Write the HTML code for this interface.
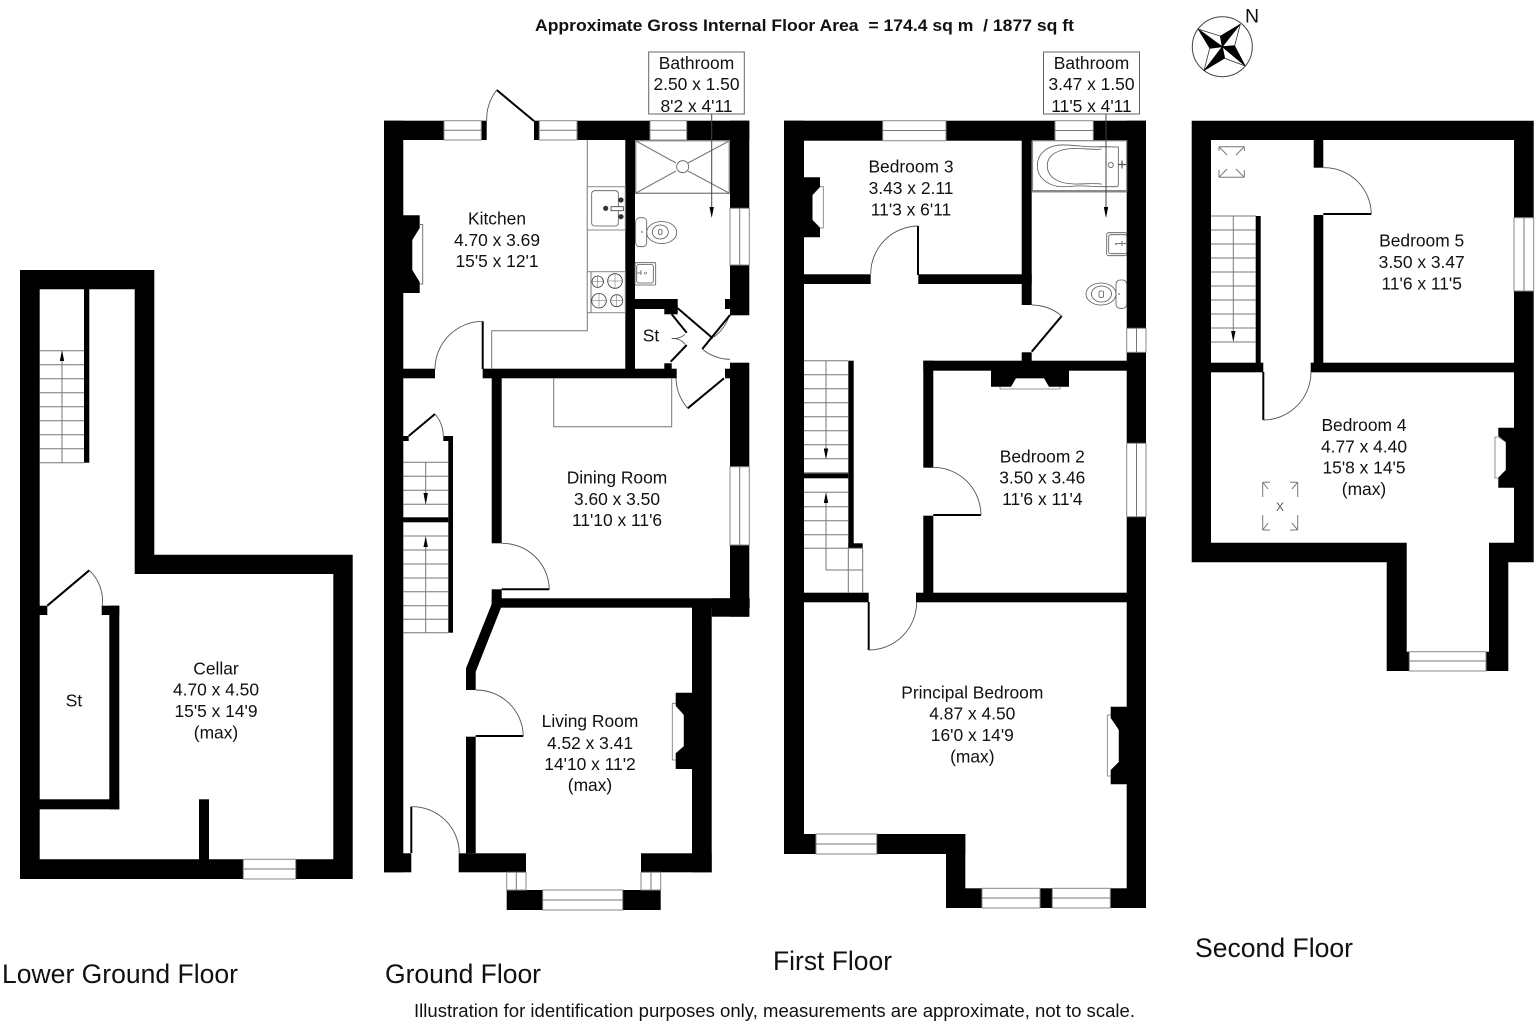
<!DOCTYPE html>
<html><head><meta charset="utf-8"><title>Floor plan</title>
<style>
html,body{margin:0;padding:0;background:#fff}
svg{display:block}
text{font-family:"Liberation Sans",sans-serif;fill:#111;font-size:17.4px}
.c{text-anchor:middle}
.f{font-size:26.5px}
.g{stroke:#777;stroke-width:1;fill:none}
.k{stroke:#444;stroke-width:1;fill:none}
.w{stroke:#888;stroke-width:1;fill:#fff}
.a{stroke:#555;stroke-width:.9;fill:none}
.l{stroke:#000;stroke-width:2;fill:none}
.t{stroke:#555;stroke-width:.8;fill:#fff}
</style></head><body>
<svg width="1536" height="1024" viewBox="0 0 1536 1024" xmlns="http://www.w3.org/2000/svg">
<rect width="1536" height="1024" fill="#fff"/>

<text x="535" y="31" xml:space="preserve" style="font-size:16.5px;font-weight:bold;white-space:pre" textLength="539" lengthAdjust="spacingAndGlyphs">Approximate Gross Internal Floor Area  = 174.4 sq m  / 1877 sq ft</text>

<!-- compass -->
<circle cx="1222.3" cy="46.7" r="30" fill="#fff" stroke="#444" stroke-width="1"/>
<g stroke="#333" stroke-width=".8" fill="#fff">
<polygon points="1240.3,24 1234.7,45.7 1222.3,46.7"/>
<polygon points="1245.3,66 1224.7,58.3 1222.3,46.7"/>
<polygon points="1204,70.7 1209.7,48.3 1222.3,46.7"/>
<polygon points="1198,29 1220.3,36 1222.3,46.7"/>
</g>
<g fill="#000" stroke="#000" stroke-width=".5">
<polygon points="1240.3,24 1220.3,36 1222.3,46.7"/>
<polygon points="1245.3,66 1234.7,45.7 1222.3,46.7"/>
<polygon points="1204,70.7 1224.7,58.3 1222.3,46.7"/>
<polygon points="1198,29 1209.7,48.3 1222.3,46.7"/>
</g>
<text x="1245" y="22.3" style="font-size:19.5px">N</text>

<!-- ============ CELLAR ============ -->
<path fill-rule="evenodd" fill="#000" d="M20 270H154.3V554.7H352.7V879H20Z M39.7 289.3V859.3H333.3V574H134.7V289.3Z"/>
<rect x="84" y="289" width="5.3" height="173.7"/>
<g class="g">
<path d="M39.7 350.7H84M39.7 364.7H84M39.7 378.7H84M39.7 392.7H84M39.7 406.7H84M39.7 420.7H84M39.7 434.7H84M39.7 448.7H84M39.7 462.7H84M62 462.7V358"/>
</g>
<polygon points="62,350 59.8,361 64.2,361"/>
<rect x="39" y="605.7" width="8.3" height="9.3"/>
<rect x="101.7" y="605.7" width="17.6" height="9.3"/>
<rect x="109.3" y="605.7" width="10" height="203.6"/>
<rect x="39" y="799.3" width="80.3" height="10"/>
<path class="l" d="M47.3 605.7L89.3 570.3"/>
<path class="a" d="M89.3 570.3A42 42 0 0 1 102.3 605.7"/>
<rect x="199" y="799.3" width="10" height="60.5"/>
<rect class="w" x="243.3" y="859.3" width="52.4" height="19.7"/><path class="g" d="M243.3 869H295.7"/>
<text class="c" x="216" y="674.3">Cellar</text>
<text class="c" x="216" y="695.7">4.70 x 4.50</text>
<text class="c" x="216" y="717">15'5 x 14'9</text>
<text class="c" x="216" y="738.3">(max)</text>
<text class="c" x="74" y="706.7">St</text>

<!-- ============ GROUND ============ -->
<rect x="384" y="120.7" width="19.3" height="751.6"/>
<rect x="384" y="120.7" width="365.3" height="19.3"/>
<rect x="730" y="120.7" width="19.3" height="194.6"/>
<rect x="730" y="362.7" width="19.3" height="254"/>
<rect x="711.7" y="598.3" width="37.6" height="18.4"/>
<rect x="692" y="607" width="19.7" height="265.3"/>
<rect x="384" y="853.3" width="27.3" height="19"/>
<rect x="458.7" y="853.3" width="67.3" height="19"/>
<rect x="641" y="853.3" width="70.7" height="19"/>
<rect x="506.7" y="890" width="36" height="20"/>
<rect x="622.7" y="890" width="38" height="20"/>
<rect class="w" x="506.7" y="872.3" width="19.3" height="17.7"/><path class="g" d="M516.3 872.3V890"/>
<rect class="w" x="641" y="872.3" width="19.7" height="17.7"/><path class="g" d="M651 872.3V890"/>
<rect class="w" x="542.7" y="890" width="80" height="20"/><path class="g" d="M542.7 900H622.7"/>
<rect class="w" x="444" y="120.7" width="37.3" height="19.3"/><path class="g" d="M444 130.3H481.3"/>
<rect fill="#fff" x="486.7" y="120" width="47.3" height="21"/>
<rect class="w" x="539.3" y="120.7" width="37.7" height="19.3"/><path class="g" d="M539.3 130.3H577"/>
<rect class="w" x="650" y="120.7" width="36.7" height="19.3"/><path class="g" d="M650 130.3H686.7"/>
<path class="l" d="M534 121L496.7 90"/>
<path class="a" d="M496.7 90A48 48 0 0 0 486.7 121"/>
<rect class="w" x="730" y="208.3" width="19.3" height="56.7"/><path class="g" d="M739.7 208.3V265"/>
<rect class="w" x="730" y="466.7" width="19.3" height="78.3"/><path class="g" d="M739.7 466.7V545"/>
<rect x="625.3" y="140" width="9.7" height="233"/>
<rect x="403" y="368.7" width="32" height="9.6"/>
<rect x="482.7" y="368.7" width="194" height="9.6"/>
<rect x="635" y="299" width="42.7" height="10"/>
<rect x="664.3" y="305" width="13.4" height="9.3"/>
<rect x="664.3" y="363.3" width="7.4" height="10"/>
<rect x="725" y="299" width="5" height="10"/>
<rect x="725" y="368.7" width="5" height="9.6"/>
<rect x="491.7" y="378" width="10" height="165.3"/>
<rect x="491.7" y="589.3" width="10" height="18"/>
<rect x="491.7" y="598.3" width="258" height="9.4"/>
<polygon points="491.7,604 501,607.7 475.7,671.7 475.7,690 466,690 466,668.3"/>
<rect x="466" y="736.7" width="9.7" height="116.6"/>
<!-- doors -->
<path class="l" d="M482.7 321.3V369"/><path class="a" d="M482.7 321.3A48 48 0 0 0 435 369"/>
<path class="l" d="M501.7 589.3H549.3"/><path class="a" d="M501.7 543.3A47 47 0 0 1 549.3 589.3"/>
<path class="l" d="M475.7 736H523.3"/><path class="a" d="M475.7 690A47 47 0 0 1 523.3 736"/>
<path class="l" d="M411.3 806.7V853"/><path class="a" d="M411.3 806.7A47 47 0 0 1 459.3 853"/>
<path class="l" d="M677.7 308.3L712.7 338.3"/><path class="a" d="M714 337A45 45 0 0 0 729.5 315"/>
<path class="l" d="M730 315L702.3 349"/><path class="a" d="M702.3 349A44 44 0 0 0 730 359.3"/>
<path class="l" d="M724 378.3L687.7 408.3"/><path class="a" d="M687.7 408.3A48 48 0 0 1 676 378.3"/>
<path class="l" d="M671.7 314.3L686.7 332.7M686.7 345L670.7 361.7"/>
<path class="a" d="M671.7 338.5Q680 339 685 334.3M671.7 338.5Q680 338 685 344.3"/>
<!-- kitchen counters -->
<path class="g" d="M587.3 140V330.7H491.7V369"/>
<rect class="w" x="587.3" y="186.7" width="38" height="43.3"/>
<rect class="t" x="591.7" y="190.7" width="26.6" height="35.3" rx="3"/>
<rect x="611" y="206.7" width="12.3" height="4" fill="#fff" stroke="#333" stroke-width=".8"/>
<circle cx="605.7" cy="208.3" r="2.6" fill="#333"/><circle cx="621" cy="200" r="2.6" fill="#333"/><circle cx="621" cy="216.7" r="2.6" fill="#333"/>
<rect class="w" x="587.3" y="271.7" width="38" height="41"/>
<path class="g" d="M591 271.7V312.7"/>
<g class="t" style="stroke:#333">
<circle cx="597.7" cy="281.7" r="5.7"/><circle cx="615" cy="281" r="7.3"/><circle cx="599" cy="300.7" r="7.3"/><circle cx="616.7" cy="300.7" r="6"/>
</g>
<path d="M591 281.7h13M608 281h14M597.7 276v11M615 273.7v14.6M591 300.7h15M611 300.7h12M599 293.4v14.6M616.7 294.7v12" stroke="#666" stroke-width=".5"/>
<!-- bathroom fittings -->
<rect x="635.7" y="140.7" width="93.6" height="52.6" fill="#fff" stroke="#888" stroke-width="1.4"/>
<path class="g" d="M636 141L676 163M729 141L688 163M636 193L676 171M729 193L688 171"/>
<circle class="t" cx="682.7" cy="166.7" r="6"/>
<ellipse class="t" cx="661.7" cy="232.5" rx="15" ry="11"/>
<ellipse class="t" cx="660.3" cy="232" rx="8" ry="7"/>
<rect class="t" x="658.5" y="229.5" width="3.5" height="5" rx="1.5"/>
<rect class="t" x="635.7" y="217.7" width="11" height="29" rx="4"/>
<circle cx="642" cy="232" r=".7" fill="#333"/>
<rect class="t" x="635" y="262.7" width="20.7" height="22.3" rx="1"/>
<rect class="t" x="636.7" y="264.5" width="16.6" height="18.5" rx="2"/>
<path class="g" d="M637 273h4M641 270v5"/><circle cx="645.5" cy="273" r="1" fill="none" stroke="#555" stroke-width=".6"/>
<!-- stairs -->
<rect x="448.3" y="436" width="4.7" height="196.7"/>
<rect x="443.3" y="436" width="9.7" height="5"/>
<rect x="403" y="436" width="5.7" height="5"/>
<path class="l" d="M408.7 436L435 414"/><path class="a" d="M435 414A35 35 0 0 1 443.3 436"/>
<rect x="403" y="517.3" width="45.3" height="5"/>
<path class="g" d="M403.3 462.3H448.3M403.3 476.3H448.3M403.3 490.3H448.3M403.3 504.3H448.3M403.3 536H448.3M403.3 550H448.3M403.3 564H448.3M403.3 578H448.3M403.3 591.7H448.3M403.3 605.7H448.3M403.3 619.3H448.3M403.3 632.7H448.3M425.7 462V496M425.7 632.7V544"/>
<polygon points="425.7,505 423.5,493 427.9,493"/>
<polygon points="425.7,536 423.5,547 427.9,547"/>
<path class="g" d="M553.7 378V426.7H671.7V378"/>
<!-- living chimney -->
<polygon class="t" points="672.3,703.3 676,703.3 684,715 684,746.7 676,760 672.3,760" style="stroke:#777"/>
<polygon points="692,692.7 675.7,692.7 675.7,706 684,715 684,746 675.7,753.3 675.7,769 692,769"/>
<!-- kitchen chimney -->
<path class="g" d="M419.7 224.5H422.7V284H419.7"/>
<polygon points="403,215.3 419.7,215.3 419.7,228 412.3,240 412.3,270 419.7,282 419.7,293 403,293"/>
<!-- labels -->
<rect x="648.7" y="52" width="95.6" height="62" fill="#fff" stroke="#666" stroke-width="1"/>
<path class="k" d="M711.7 114V209"/><polygon points="711.7,218 709.5,207 713.9,207"/>
<text class="c" x="696.5" y="69">Bathroom</text>
<text class="c" x="696.5" y="90">2.50 x 1.50</text>
<text class="c" x="696.5" y="112">8'2 x 4'11</text>
<text class="c" x="497" y="224.5">Kitchen</text>
<text class="c" x="497" y="245.8">4.70 x 3.69</text>
<text class="c" x="497" y="267.2">15'5 x 12'1</text>
<text class="c" x="651" y="341.7">St</text>
<text class="c" x="617" y="483.5">Dining Room</text>
<text class="c" x="617" y="505">3.60 x 3.50</text>
<text class="c" x="617" y="526">11'10 x 11'6</text>
<text class="c" x="590" y="727">Living Room</text>
<text class="c" x="590" y="749">4.52 x 3.41</text>
<text class="c" x="590" y="770">14'10 x 11'2</text>
<text class="c" x="590" y="791">(max)</text>

<!-- ============ FIRST ============ -->
<rect x="784" y="120.7" width="20" height="733.3"/>
<rect x="784" y="120.7" width="362" height="20"/>
<rect x="1126.7" y="120.7" width="19.3" height="787.3"/>
<rect x="784" y="834" width="181.3" height="20"/>
<rect x="946" y="834" width="19.3" height="74"/>
<rect x="946" y="888.3" width="200" height="19.7"/>
<rect class="w" x="816" y="834" width="60.7" height="20"/><path class="g" d="M816 844H876.7"/>
<rect class="w" x="982" y="888.3" width="58" height="19.7"/><path class="g" d="M982 898H1040"/>
<rect class="w" x="1052.3" y="888.3" width="58" height="19.7"/><path class="g" d="M1052.3 898H1110.3"/>
<rect class="w" x="882.7" y="120.7" width="63.3" height="20"/><path class="g" d="M882.7 130.5H946"/>
<rect class="w" x="1055" y="120.7" width="38.3" height="20"/><path class="g" d="M1055 130.5H1093.3"/>
<rect class="w" x="1126.7" y="328.3" width="19.3" height="24"/><path class="g" d="M1136.5 328.3V352.3"/>
<rect class="w" x="1126.7" y="443.3" width="19.3" height="73.4"/><path class="g" d="M1136.5 443.3V516.7"/>
<rect x="1021.7" y="140" width="10" height="165"/>
<rect x="804" y="274.3" width="66.7" height="9.7"/>
<rect x="918.3" y="274.3" width="113.4" height="9.7"/>
<rect x="1021.7" y="352.3" width="10" height="10"/>
<rect x="923.3" y="360.7" width="205" height="10"/>
<rect x="923.3" y="360.7" width="10" height="107"/>
<rect x="923.3" y="515.7" width="10" height="78"/>
<rect x="804" y="592.7" width="64.7" height="9.6"/>
<rect x="916" y="592.7" width="211" height="9.6"/>
<path class="l" d="M918 226V275"/><path class="a" d="M918 226A48 48 0 0 0 870.7 274"/>
<path class="l" d="M1031.7 351.7L1061.7 316"/><path class="a" d="M1061.7 316A47 47 0 0 0 1031.7 305"/>
<path class="l" d="M933.3 515H981"/><path class="a" d="M933.3 467.3A48 48 0 0 1 981 515"/>
<path class="l" d="M868.7 602V650"/><path class="a" d="M868.7 650A48 48 0 0 0 916.7 602.3"/>
<rect x="848.3" y="360.7" width="5.4" height="187.6"/>
<rect x="848.3" y="543.3" width="14.4" height="5"/>
<rect x="804" y="473.3" width="44.3" height="5"/>
<path class="g" d="M804 360.7H848.3M804 374.7H848.3M804 388.7H848.3M804 402.7H848.3M804 416.7H848.3M804 430.7H848.3M804 444.7H848.3M804 458.7H848.3M804 472.7H848.3M804 492.3H848.3M804 506.7H848.3M804 520.7H848.3M804 534.7H848.3M804 548.3H862.7M848.3 548.3V592.7M862.7 548.3V592.7M826 570H862.7M826 570V500M826 361V451"/>
<polygon points="826,459.5 823.8,448.5 828.2,448.5"/>
<polygon points="826,492 823.8,503 828.2,503"/>
<!-- chimneys -->
<polygon class="t" points="820,186.7 823.3,186.7 823.3,228 820,228 812.3,220 812.3,195" style="stroke:#777"/>
<polygon points="804,177.3 820,177.3 820,186.7 812.3,195 812.3,220 820,227.7 820,237.3 804,237.3"/>
<polygon class="t" points="1000,378 1060,378 1060,389 1000,389" style="stroke:#777"/>
<polygon points="991,370 1069,370 1069,386.7 1049,386.7 1044,378.3 1016,378.3 1011,386.7 991,386.7"/>
<polygon class="t" points="1107.3,715 1111,715 1119,730 1119,762 1111,776 1107.3,776" style="stroke:#777"/>
<polygon points="1127,706.7 1110.7,706.7 1110.7,718 1119,730 1119,761.7 1110.7,770 1110.7,784.3 1127,784.3"/>
<!-- bath -->
<rect x="1032.5" y="140.7" width="94.2" height="50.5" fill="#fff" stroke="#888" stroke-width="1.2"/>
<path d="M1032 191.2H1127" stroke="#888" stroke-width="2.5"/>
<path class="t" d="M1118.3 147V184.7Q1118.3 186.7 1116.3 186.7H1101.7C1092 186.7 1085 185.5 1075 186C1068 186.7 1062 187 1058 186.5C1045 184 1037.3 176 1037.3 165.7C1037.3 155 1045 147 1058 145.2C1062 144.7 1070 145 1080 146C1088 147 1095 147 1101.7 146.7Z"/>
<path class="t" style="fill:none" d="M1101.7 149C1095 150 1085 148.5 1075 148.5C1058 148.5 1047.3 155 1047.3 165.7C1047.3 177 1058 184 1075 184C1085 184 1095 183 1101.7 184.2"/>
<circle class="t" cx="1110.7" cy="165" r="2.6"/>
<path d="M1118.3 164.5h8M1122 160.5v8" stroke="#555" stroke-width="1.2"/>
<rect class="t" x="1106.7" y="232.7" width="20" height="23" rx="2"/>
<rect class="t" x="1108.7" y="234.7" width="18" height="19" rx="2"/>
<path class="g" d="M1117 243.5h9M1122 241v5"/><circle cx="1116" cy="244" r=".9" fill="#444"/>
<ellipse class="t" cx="1101" cy="294" rx="15" ry="11"/>
<ellipse class="t" cx="1101.5" cy="294" rx="10" ry="8"/>
<rect class="t" x="1099" y="291" width="4.5" height="6.5" rx="1.5"/>
<rect class="t" x="1116" y="280" width="10.7" height="28.3" rx="4"/>
<circle cx="1119" cy="294" r=".7" fill="#333"/>
<!-- labels -->
<rect x="1043.5" y="52" width="96" height="62" fill="#fff" stroke="#666" stroke-width="1"/>
<path class="k" d="M1106 114V209"/><polygon points="1106,218 1103.8,207 1108.2,207"/>
<text class="c" x="1091.5" y="69">Bathroom</text>
<text class="c" x="1091.5" y="90">3.47 x 1.50</text>
<text class="c" x="1091.5" y="112">11'5 x 4'11</text>
<text class="c" x="911" y="172.7">Bedroom 3</text>
<text class="c" x="911" y="194">3.43 x 2.11</text>
<text class="c" x="911" y="215.3">11'3 x 6'11</text>
<text class="c" x="1042.3" y="462.3">Bedroom 2</text>
<text class="c" x="1042.3" y="483.7">3.50 x 3.46</text>
<text class="c" x="1042.3" y="505">11'6 x 11'4</text>
<text class="c" x="972.3" y="698.3">Principal Bedroom</text>
<text class="c" x="972.3" y="719.7">4.87 x 4.50</text>
<text class="c" x="972.3" y="741">16'0 x 14'9</text>
<text class="c" x="972.3" y="762.4">(max)</text>

<!-- ============ SECOND ============ -->
<path fill-rule="evenodd" fill="#000" d="M1191.7 120.7H1533.7V562.3H1508.3V671H1386.7V562.3H1191.7Z M1211 140V542.7H1406.7V651.7H1489V542.7H1514V140Z"/>
<rect class="w" x="1409.3" y="651.7" width="76.7" height="19.3"/><path class="g" d="M1409.3 661H1486"/>
<rect class="w" x="1514" y="217.7" width="19.7" height="73.3"/><path class="g" d="M1524 217.7V291"/>
<rect x="1313.7" y="140" width="9.6" height="27.7"/>
<rect x="1313.7" y="215" width="9.6" height="150"/>
<rect x="1211" y="362.7" width="52.3" height="9.6"/>
<rect x="1310.7" y="362.7" width="203.3" height="9.6"/>
<path class="l" d="M1323.3 214H1371.3"/><path class="a" d="M1323.3 167.7A47 47 0 0 1 1371.3 214"/>
<path class="l" d="M1263.3 372V420"/><path class="a" d="M1263.3 420A48 48 0 0 0 1311 372"/>
<rect x="1255.7" y="216" width="5" height="147"/>
<path class="g" d="M1211 216H1255.7M1211 230H1255.7M1211 244H1255.7M1211 258H1255.7M1211 272H1255.7M1211 286H1255.7M1211 300H1255.7M1211 314H1255.7M1211 328H1255.7M1211 342H1255.7M1233.3 216V334"/>
<polygon points="1233.3,342 1231.1,331 1235.5,331"/>
<path class="g" d="M1219 146.7H1244.3M1219 177.3H1244.3M1219 146.7L1227 155M1244.3 146.7L1236 155M1219 177.3L1227 169M1244.3 177.3L1236 169M1219 146.7V151M1244.3 146.7V151M1219 177.3V170M1244.3 177.3V170"/>
<path class="g" d="M1262.7 482.3H1270M1290 482.3H1297.7M1262.7 530H1270M1290 530H1297.7M1262.7 482.3V497M1297.7 482.3V497M1262.7 530V515M1297.7 530V515M1262.7 482.3L1268 489M1297.7 482.3L1292 489M1262.7 530L1268 523M1297.7 530L1292 523"/>
<text class="c" x="1280" y="511" style="font-size:12px;fill:#555">X</text>
<polygon class="t" points="1495,437 1498.3,437 1506,442 1506,470 1498.3,478 1495,478" style="stroke:#777"/>
<polygon points="1514,427.7 1498.3,427.7 1498.3,436 1506,442 1506,470 1498.3,477.7 1498.3,487.7 1514,487.7"/>
<text class="c" x="1421.7" y="246.7">Bedroom 5</text>
<text class="c" x="1421.7" y="268">3.50 x 3.47</text>
<text class="c" x="1421.7" y="289.3">11'6 x 11'5</text>
<text class="c" x="1364" y="431">Bedroom 4</text>
<text class="c" x="1364" y="452.3">4.77 x 4.40</text>
<text class="c" x="1364" y="473.7">15'8 x 14'5</text>
<text class="c" x="1364" y="495">(max)</text>

<!-- floor names -->
<text class="f" x="2" y="983" textLength="236" lengthAdjust="spacingAndGlyphs">Lower Ground Floor</text>
<text class="f" x="385" y="983" textLength="156" lengthAdjust="spacingAndGlyphs">Ground Floor</text>
<text class="f" x="773" y="970" textLength="119" lengthAdjust="spacingAndGlyphs">First Floor</text>
<text class="f" x="1195" y="957" textLength="158" lengthAdjust="spacingAndGlyphs">Second Floor</text>
<text x="414" y="1017" style="font-size:18px" textLength="721" lengthAdjust="spacingAndGlyphs">Illustration for identification purposes only, measurements are approximate, not to scale.</text>
</svg>
</body></html>
